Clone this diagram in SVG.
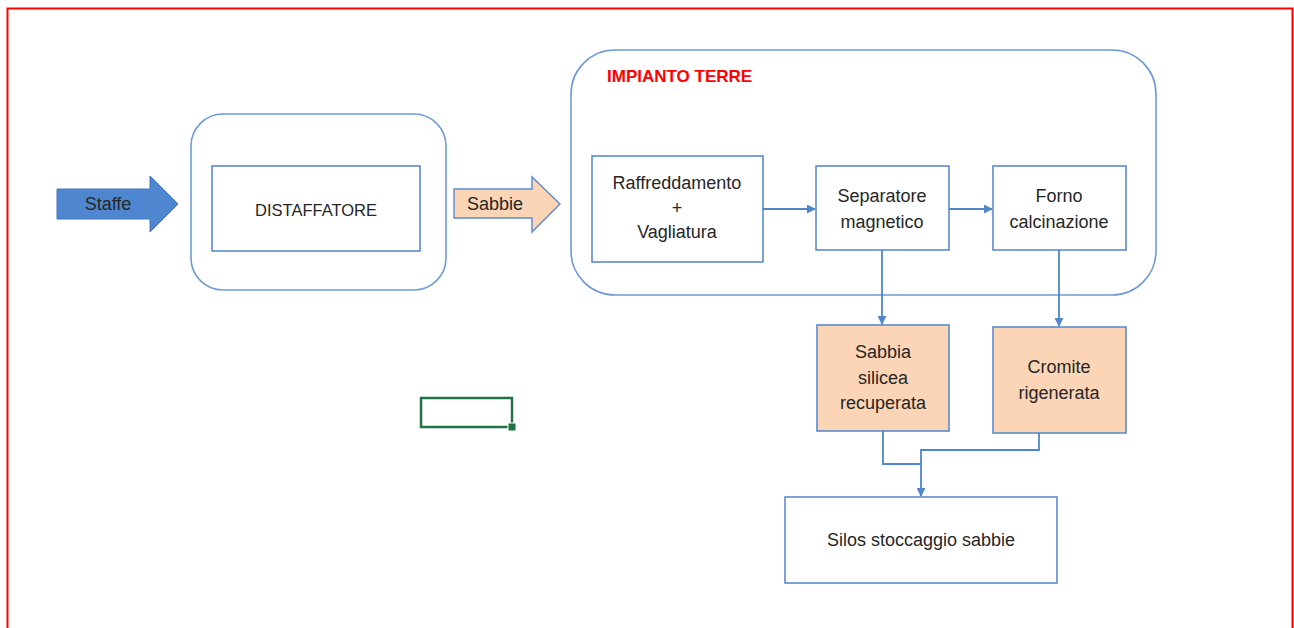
<svg xmlns="http://www.w3.org/2000/svg" width="1294" height="628" viewBox="0 0 1294 628">
  <style>
    .t { font-family: "Liberation Sans", Arial, sans-serif; font-size: 18px; fill: #262626; text-anchor: middle; }
    .box { fill: #ffffff; stroke: #5b8bcf; stroke-width: 1.6; }
    .res { fill: #fbd5b5; stroke: #5b8bcf; stroke-width: 1.6; }
    .grp { fill: none; stroke: #6f9bd6; stroke-width: 1.6; }
    .ln { fill: none; stroke: #4f86cc; stroke-width: 1.8; }
  </style>
  <defs>
    <marker id="ah" viewBox="0 0 10 10" refX="9" refY="5" markerWidth="5" markerHeight="5" orient="auto" markerUnits="strokeWidth">
      <path d="M0,0 L10,5 L0,10 z" fill="#4f86cc"/>
    </marker>
  </defs>

  <rect width="1294" height="628" fill="#ffffff"/>
  <!-- page frame -->
  <path d="M7.5,640 V8.5 H1292.5 V640" fill="none" stroke="#ff0000" stroke-width="2"/>

  <!-- Staffe input arrow -->
  <g id="staffe">
    <path d="M57,189 H150 V176 L178,204 L150,232 V219 H57 Z" fill="#4e86cf" stroke="#4472c4" stroke-width="1"/>
    <text class="t" x="108" y="210">Staffe</text>
  </g>

  <!-- Distaffatore -->
  <g id="distaffatore">
    <rect class="grp" x="191" y="114" width="255" height="176" rx="32"/>
    <rect class="box" x="212" y="166" width="208" height="85"/>
    <text class="t" x="316" y="216" style="font-size:16.5px">DISTAFFATORE</text>
  </g>

  <!-- Sabbie arrow -->
  <g id="sabbie">
    <path d="M454,189 H532 V177 L560,204 L532,232 V218 H454 Z" fill="#fbd5b5" stroke="#5b8bcf" stroke-width="1.4"/>
    <text class="t" x="495" y="210">Sabbie</text>
  </g>

  <!-- Impianto terre group -->
  <g id="impianto">
    <rect class="grp" x="571" y="50" width="585" height="245" rx="44"/>
    <text x="607" y="82" style="font-family:'Liberation Sans',Arial,sans-serif;font-size:17px;font-weight:bold;fill:#ff0000">IMPIANTO TERRE</text>
  </g>

  <g id="raffreddamento">
    <rect class="box" x="592" y="156" width="171" height="106"/>
    <text class="t" x="677" y="189">Raffreddamento</text>
    <text class="t" x="677" y="214">+</text>
    <text class="t" x="677" y="238">Vagliatura</text>
  </g>

  <g id="separatore">
    <rect class="box" x="816" y="166" width="133" height="84"/>
    <text class="t" x="882" y="202">Separatore</text>
    <text class="t" x="882" y="228">magnetico</text>
  </g>

  <g id="forno">
    <rect class="box" x="993" y="166" width="133" height="84"/>
    <text class="t" x="1059" y="202">Forno</text>
    <text class="t" x="1059" y="228">calcinazione</text>
  </g>

  <g id="sabbia-silicea">
    <rect class="res" x="817" y="325" width="132" height="106"/>
    <text class="t" x="883" y="358">Sabbia</text>
    <text class="t" x="883" y="384">silicea</text>
    <text class="t" x="883" y="409">recuperata</text>
  </g>

  <g id="cromite">
    <rect class="res" x="993" y="327" width="133" height="106"/>
    <text class="t" x="1059" y="373">Cromite</text>
    <text class="t" x="1059" y="399">rigenerata</text>
  </g>

  <g id="silos">
    <rect class="box" x="785" y="497" width="272" height="86"/>
    <text class="t" x="921" y="546">Silos stoccaggio sabbie</text>
  </g>

  <!-- connectors -->
  <g id="connectors">
    <path class="ln" d="M763,209 H815" marker-end="url(#ah)"/>
    <path class="ln" d="M949,209 H992" marker-end="url(#ah)"/>
    <path class="ln" d="M882,250 V324" marker-end="url(#ah)"/>
    <path class="ln" d="M1059,250 V326" marker-end="url(#ah)"/>
    <path class="ln" d="M883,431 V464 H921"/>
    <path class="ln" d="M1039,433 V450 H921 V496" marker-end="url(#ah)"/>
  </g>

  <!-- selected cell outline -->
  <g id="cell">
    <rect x="421" y="398" width="91" height="29" fill="none" stroke="#217346" stroke-width="2.5"/>
    <rect x="508" y="423" width="8" height="8" fill="#217346" stroke="#ffffff" stroke-width="1"/>
  </g>
</svg>
